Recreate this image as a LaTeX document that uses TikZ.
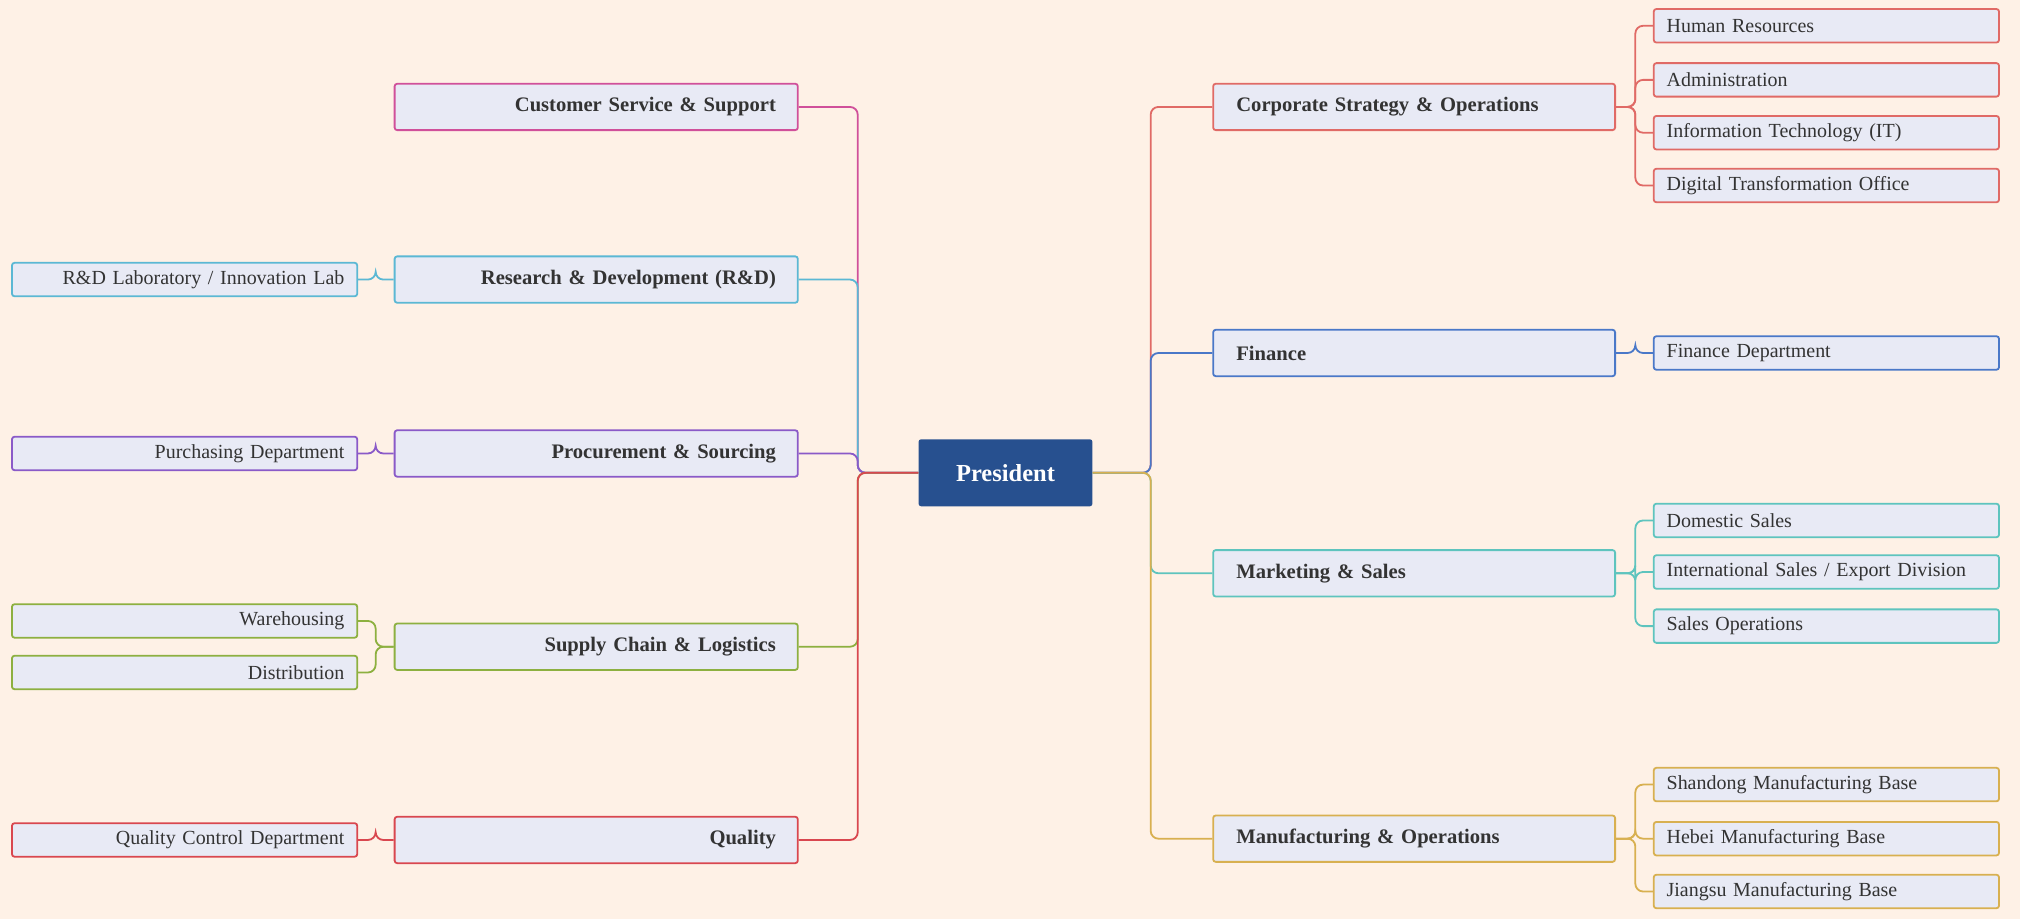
\documentclass[tikz,border=0pt]{standalone}
\usepackage{fontspec}
\setmainfont{Liberation Serif}
\begin{document}
\begin{tikzpicture}[x=1pt,y=-1pt,
  l1/.style={draw=#1,line width=1.4pt,fill=boxf,rounded corners=2pt,minimum height=36pt,inner ysep=0pt,font=\fontsize{16}{18}\selectfont\bfseries,text=txt},
  rl1/.style={l1=#1,text width=276pt,inner xsep=18pt,align=left,anchor=west},
  ll1/.style={l1=#1,text width=279pt,inner xsep=17pt,align=right,anchor=east},
  l2/.style={draw=#1,line width=1.4pt,fill=boxf,rounded corners=2pt,minimum height=26pt,inner ysep=0pt,font=\fontsize{15.5}{17}\selectfont,text=txt},
  rl2/.style={l2=#1,text width=248pt,inner xsep=10pt,align=left,anchor=west},
  ll2/.style={l2=#1,text width=248pt,inner xsep=10pt,align=right,anchor=east},
  c/.style={draw=#1,line width=1.4pt,rounded corners=6pt}]
\definecolor{bg}{HTML}{FEF1E6}
\definecolor{boxf}{HTML}{E8EAF5}
\definecolor{txt}{HTML}{333333}
\definecolor{cred}{HTML}{E06A66}
\definecolor{cblue}{HTML}{4A78C8}
\definecolor{cteal}{HTML}{5EC4BE}
\definecolor{cgold}{HTML}{D8B050}
\definecolor{cpink}{HTML}{D0509A}
\definecolor{ccyan}{HTML}{5BB8D4}
\definecolor{cpurp}{HTML}{8A5AC8}
\definecolor{cgreen}{HTML}{8DB040}
\definecolor{cqred}{HTML}{D9474F}
\definecolor{pres}{HTML}{27508F}
\fill[bg] (0,0) rectangle (1568,713);
\useasboundingbox (0,0) rectangle (1568,713);
\node[fill=pres,rounded corners=2pt,minimum width=135pt,minimum height=52pt,text=white,font=\fontsize{19}{21}\selectfont\bfseries] (P) at (780.5,367) {President};
% right L1
\node[rl1=cred] (cs) at (941,83) {Corporate Strategy \& Operations};
\node[rl1=cblue] (fi) at (941,274) {Finance};
\node[rl1=cteal] (ms) at (941,445) {Marketing \& Sales};
\node[rl1=cgold] (mo) at (941,651) {Manufacturing \& Operations};
% right L2
\node[rl2=cred] (hr) at (1283,20) {Human Resources};
\node[rl2=cred] (ad) at (1283,62) {Administration};
\node[rl2=cred] (it) at (1283,103) {Information Technology (IT)};
\node[rl2=cred] (dt) at (1283,144) {Digital Transformation Office};
\node[rl2=cblue] (fd) at (1283,274) {Finance Department};
\node[rl2=cteal] (ds) at (1283,404) {Domestic Sales};
\node[rl2=cteal] (is) at (1283,444) {International Sales / Export Division};
\node[rl2=cteal] (so) at (1283,486) {Sales Operations};
\node[rl2=cgold] (sd) at (1283,609) {Shandong Manufacturing Base};
\node[rl2=cgold] (hb) at (1283,651) {Hebei Manufacturing Base};
\node[rl2=cgold] (js) at (1283,692) {Jiangsu Manufacturing Base};
% left L1
\node[ll1=cpink] (cu) at (620,83) {Customer Service \& Support};
\node[ll1=ccyan] (rd) at (620,217) {Research \& Development (R\&D)};
\node[ll1=cpurp] (pr) at (620,352) {Procurement \& Sourcing};
\node[ll1=cgreen] (sc) at (620,502) {Supply Chain \& Logistics};
\node[ll1=cqred] (qu) at (620,652) {Quality};
% left L2
\node[ll2=ccyan] (rl) at (278,217) {R\&D Laboratory / Innovation Lab};
\node[ll2=cpurp] (pd) at (278,352) {Purchasing Department};
\node[ll2=cgreen] (wh) at (278,482) {Warehousing};
\node[ll2=cgreen] (di) at (278,522) {Distribution};
\node[ll2=cqred] (qc) at (278,652) {Quality Control Department};
% connectors right
\foreach \n/\col in {cs/cred,fi/cblue,ms/cteal,mo/cgold}
  \draw[c=\col] (P.east) -- ++(45,0) |- (\n.west);
\foreach \p/\n/\col in {cs/hr/cred,cs/ad/cred,cs/it/cred,cs/dt/cred,fi/fd/cblue,ms/ds/cteal,ms/is/cteal,ms/so/cteal,mo/sd/cgold,mo/hb/cgold,mo/js/cgold}
  \draw[c=\col] (\p.east) -- ++(15,0) |- (\n.west);
% connectors left
\foreach \n/\col in {cu/cpink,rd/ccyan,pr/cpurp,sc/cgreen,qu/cqred}
  \draw[c=\col] (P.west) -- ++(-47,0) |- (\n.east);
\foreach \p/\n/\col in {rd/rl/ccyan,pr/pd/cpurp,sc/wh/cgreen,sc/di/cgreen,qu/qc/cqred}
  \draw[c=\col] (\p.west) -- ++(-14,0) |- (\n.east);
\end{tikzpicture}
\end{document}
